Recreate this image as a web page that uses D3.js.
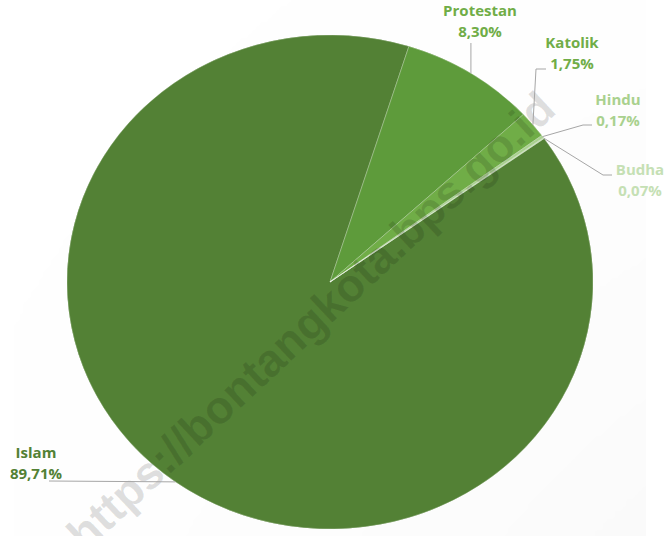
<!DOCTYPE html>
<html>
<head>
<meta charset="utf-8">
<script src="https://cdn.jsdelivr.net/npm/d3@7"></script>
<style>
  body { margin: 0; background: #fff; }
  svg { display: block; }
  text { font-family: "Open Sans", "Noto Sans", sans-serif; font-weight: bold; }
</style>
</head>
<body>
<div id="chart"></div>
<script>
// agama penduduk, persen
var categories = ["Islam", "Protestan", "Katolik", "Hindu", "Budha"];
var values = [89.71, 8.30, 1.75, 0.17, 0.07];
var valueLabels = ["89,71%", "8,30%", "1,75%", "0,17%", "0,07%"];

var colors = ["#538135", "#5e9b3b", "#70ad47", "#a9d18e", "#c5e0b4"];
var labelColors = ["#538135", "#70ad47", "#70ad47", "#a9d18e", "#c5e0b4"];

var width = 666, height = 536;
var cx = 330, cy = 282, rx = 263, ry = 247;
var startDeg = 54.5;

// where the labels sit (text centre x, first baseline y) and the leader elbows
var labelPos = {
  "Islam":     {x: 36,  y: 458, path: [[49, 481]]},
  "Protestan": {x: 480, y: 16,  path: [[null, 43]]},
  "Katolik":   {x: 572, y: 48,  path: [[536, 69], [546, 69]]},
  "Hindu":     {x: 618, y: 105, path: [[583, 125], [592, 125]]},
  "Budha":     {x: 640, y: 175, path: [[603, 175], [612, 175]]}
};

var svg = d3.select("#chart").append("svg")
  .attr("width", width)
  .attr("height", height);

var defs = svg.append("defs");
var f = defs.append("filter").attr("id", "shadow")
  .attr("x", "-10%").attr("y", "-10%").attr("width", "120%").attr("height", "120%");
f.append("feDropShadow")
  .attr("dx", 3).attr("dy", 3).attr("stdDeviation", 4)
  .attr("flood-color", "#000").attr("flood-opacity", 0.35);

var data = categories.map(function(c, i) {
  return {name: c, value: values[i], label: valueLabels[i], color: colors[i], labelColor: labelColors[i]};
});

var s = startDeg * Math.PI / 180;
var pie = d3.pie().sort(null).value(function(d) { return d.value; })
  .startAngle(s).endAngle(s + 2 * Math.PI);
var arcs = pie(data);

// unit circle, stretched to the ellipse
var arc = d3.arc().innerRadius(0).outerRadius(1);

var g = svg.append("g")
  .attr("transform", "translate(" + cx + "," + cy + ") scale(" + rx + "," + ry + ")");

var shadowG = g.append("g").attr("filter", "url(#shadow)");
shadowG.append("ellipse").attr("rx", 1).attr("ry", 1).attr("fill", "#538135");

g.selectAll("path.slice")
  .data(arcs)
  .enter()
  .append("path")
  .attr("class", "slice")
  .attr("d", arc)
  .attr("fill", function(d) { return d.data.color; })
  .attr("stroke", "#ffffff")
  .attr("stroke-opacity", 0.5)
  .attr("stroke-width", 0.6)
  .attr("vector-effect", "non-scaling-stroke");

function edgePoint(d) {
  var a = (d.startAngle + d.endAngle) / 2;
  return [cx + rx * Math.sin(a), cy - ry * Math.cos(a)];
}

// watermark
svg.append("text")
  .attr("transform", "translate(558,112) rotate(-43)")
  .attr("text-anchor", "end")
  .style("font-family", "'Liberation Sans', Arial, sans-serif")
  .style("font-weight", "bold")
  .attr("font-size", 46)
  .attr("fill", "#000")
  .attr("fill-opacity", 0.12)
  .text("https://bontangkota.bps.go.id");

// leader lines
var line = d3.line();
arcs.forEach(function(d) {
  var p = labelPos[d.data.name];
  var e = edgePoint(d);
  var pts = [e].concat(p.path.map(function(q) { return [q[0] === null ? e[0] : q[0], q[1]]; }));
  svg.append("path")
    .attr("d", line(pts))
    .attr("fill", "none")
    .attr("stroke", "#a6a6a6")
    .attr("stroke-width", 1);
});

// labels
var lab = svg.selectAll("text.lab")
  .data(arcs)
  .enter()
  .append("text")
  .attr("class", "lab")
  .attr("text-anchor", "middle")
  .attr("font-size", 15)
  .attr("fill", function(d) { return d.data.labelColor; });

lab.append("tspan")
  .attr("x", function(d) { return labelPos[d.data.name].x; })
  .attr("y", function(d) { return labelPos[d.data.name].y; })
  .text(function(d) { return d.data.name; });
lab.append("tspan")
  .attr("x", function(d) { return labelPos[d.data.name].x; })
  .attr("y", function(d) { return labelPos[d.data.name].y + 21; })
  .text(function(d) { return d.data.label; });
</script>
</body>
</html>
